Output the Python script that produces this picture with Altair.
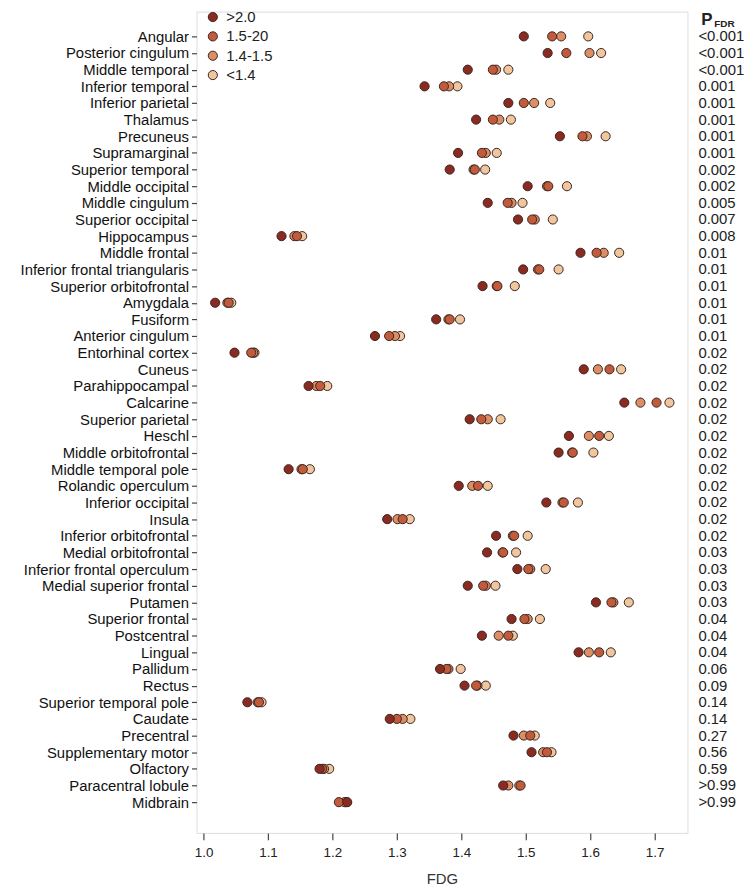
import altair as alt
import pandas as pd

regions = ["Angular", "Posterior cingulum", "Middle temporal", "Inferior temporal",
           "Inferior parietal", "Thalamus", "Precuneus", "Supramarginal",
           "Superior temporal", "Middle occipital", "Middle cingulum", "Superior occipital",
           "Hippocampus", "Middle frontal", "Inferior frontal triangularis",
           "Superior orbitofrontal", "Amygdala", "Fusiform", "Anterior cingulum",
           "Entorhinal cortex", "Cuneus", "Parahippocampal", "Calcarine",
           "Superior parietal", "Heschl", "Middle orbitofrontal", "Middle temporal pole",
           "Rolandic operculum", "Inferior occipital", "Insula", "Inferior orbitofrontal",
           "Medial orbitofrontal", "Inferior frontal operculum", "Medial superior frontal",
           "Putamen", "Superior frontal", "Postcentral", "Lingual", "Pallidum", "Rectus",
           "Superior temporal pole", "Caudate", "Precentral", "Supplementary motor",
           "Olfactory", "Paracentral lobule", "Midbrain"]

p_fdr = ["<0.001", "<0.001", "<0.001", "0.001", "0.001", "0.001", "0.001", "0.001",
         "0.002", "0.002", "0.005", "0.007", "0.008", "0.01", "0.01", "0.01", "0.01",
         "0.01", "0.01", "0.02", "0.02", "0.02", "0.02", "0.02", "0.02", "0.02", "0.02",
         "0.02", "0.02", "0.02", "0.02", "0.03", "0.03", "0.03", "0.03", "0.04", "0.04",
         "0.04", "0.06", "0.09", "0.14", "0.14", "0.27", "0.56", "0.59", ">0.99", ">0.99"]

# FDG values per group (same order as regions)
fdg_gt20 = [1.497, 1.534, 1.410, 1.343, 1.473, 1.423, 1.553, 1.395, 1.382, 1.503, 1.441, 1.488,
            1.121, 1.585, 1.496, 1.433, 1.018, 1.361, 1.266, 1.048, 1.590, 1.163, 1.653,
            1.413, 1.567, 1.551, 1.132, 1.396, 1.532, 1.285, 1.454, 1.440, 1.487, 1.410,
            1.609, 1.478, 1.432, 1.582, 1.367, 1.405, 1.068, 1.289, 1.481, 1.509, 1.180,
            1.465, 1.223]
fdg_15_20 = [1.541, 1.563, 1.449, 1.373, 1.497, 1.449, 1.588, 1.432, 1.421, 1.535, 1.472, 1.510,
             1.145, 1.610, 1.521, 1.456, 1.039, 1.382, 1.288, 1.074, 1.630, 1.181, 1.703,
             1.431, 1.614, 1.573, 1.154, 1.426, 1.559, 1.309, 1.482, 1.465, 1.504, 1.434,
             1.633, 1.498, 1.473, 1.614, 1.377, 1.423, 1.086, 1.300, 1.507, 1.533, 1.184,
             1.492, 1.210]
fdg_14_15 = [1.555, 1.599, 1.454, 1.381, 1.513, 1.459, 1.595, 1.438, 1.419, 1.533, 1.478, 1.514,
             1.141, 1.621, 1.519, 1.455, 1.037, 1.380, 1.297, 1.077, 1.612, 1.175, 1.678,
             1.441, 1.598, 1.572, 1.152, 1.417, 1.557, 1.301, 1.480, 1.464, 1.507, 1.438,
             1.636, 1.503, 1.458, 1.598, 1.380, 1.425, 1.084, 1.309, 1.497, 1.527, 1.187,
             1.473, 1.219]
fdg_lt14 = [1.597, 1.617, 1.473, 1.394, 1.538, 1.477, 1.624, 1.455, 1.437, 1.564, 1.495, 1.542,
            1.153, 1.645, 1.551, 1.483, 1.043, 1.398, 1.305, 1.079, 1.648, 1.192, 1.723,
            1.461, 1.629, 1.605, 1.165, 1.441, 1.581, 1.320, 1.503, 1.485, 1.531, 1.453,
            1.660, 1.522, 1.480, 1.632, 1.399, 1.438, 1.090, 1.321, 1.514, 1.540, 1.195,
            1.490, 1.221]

groups = [">2.0", "1.5-20", "1.4-1.5", "<1.4"]
colors = ["#8B2A20", "#C25A3C", "#DC8E64", "#EFC69E"]
x_ticks = [1.0, 1.1, 1.2, 1.3, 1.4, 1.5, 1.6, 1.7]

FONT = "Liberation Sans"

# long table, drawn lightest first so the darkest group sits on top
series = {">2.0": fdg_gt20, "1.5-20": fdg_15_20, "1.4-1.5": fdg_14_15, "<1.4": fdg_lt14}
rows = []
for g in reversed(groups):
    for r, v in zip(regions, series[g]):
        rows.append({"region": r, "fdg": v, "group": g})
df = pd.DataFrame(rows)
pdf = pd.DataFrame({"region": regions, "p": p_fdr})

yscale = alt.Scale(type="point", domain=regions, range=[25, 797], padding=0)

dots = alt.Chart(df).mark_circle(size=85, opacity=1, stroke="#3a2520", strokeWidth=1).encode(
    x=alt.X("fdg:Q",
            scale=alt.Scale(domain=[0.989, 1.751], nice=False, zero=False),
            axis=alt.Axis(values=x_ticks, format=".1f", title="FDG", grid=False, domain=False,
                          tickSize=7, tickColor="#444", tickWidth=1.2, labelPadding=6,
                          labelFontSize=13.5, labelColor="#222", labelFont=FONT,
                          titleFont=FONT, titleFontSize=15, titleFontWeight="normal",
                          titleColor="#333", titlePadding=13)),
    y=alt.Y("region:N", scale=yscale,
            axis=alt.Axis(title=None, domain=False, grid=False, tickSize=5, tickColor="#444",
                          tickWidth=1.2, labelPadding=3, labelFontSize=15, labelColor="#111",
                          labelFont=FONT)),
    color=alt.Color("group:N",
                    scale=alt.Scale(domain=groups, range=colors),
                    legend=alt.Legend(title=None, orient="none", legendX=9, legendY=-2,
                                      symbolType="circle", symbolSize=85,
                                      symbolStrokeColor="#3a2520", symbolStrokeWidth=1,
                                      symbolOpacity=1, labelFontSize=15, labelFont=FONT,
                                      labelColor="#222", labelOffset=6, rowPadding=3.5,
                                      padding=0)),
)

ptext = alt.Chart(pdf).mark_text(align="left", baseline="middle", fontSize=15, font=FONT,
                                 color="#222").encode(
    y=alt.Y("region:N", scale=yscale),
    x=alt.value(506),
    text="p:N",
)

head_p = alt.Chart(pd.DataFrame({"t": ["P"]})).mark_text(
    align="left", baseline="middle", fontSize=17, fontWeight="bold", font=FONT, color="#222"
).encode(x=alt.value(509), y=alt.value(9), text="t:N")

head_sub = alt.Chart(pd.DataFrame({"t": ["FDR"]})).mark_text(
    align="left", baseline="middle", fontSize=10, fontWeight="bold", font=FONT, color="#222"
).encode(x=alt.value(522), y=alt.value(13), text="t:N")

chart = alt.layer(dots, ptext, head_p, head_sub).properties(
    width=495, height=828,
    autosize=alt.AutoSizeParams(type="none"),
    padding={"left": 190, "top": 0, "right": 58, "bottom": 60},
).configure_view(stroke="#444", strokeWidth=1.5).configure(background="white")

chart.save("out.html", embed_options={"renderer": "svg", "actions": False})
